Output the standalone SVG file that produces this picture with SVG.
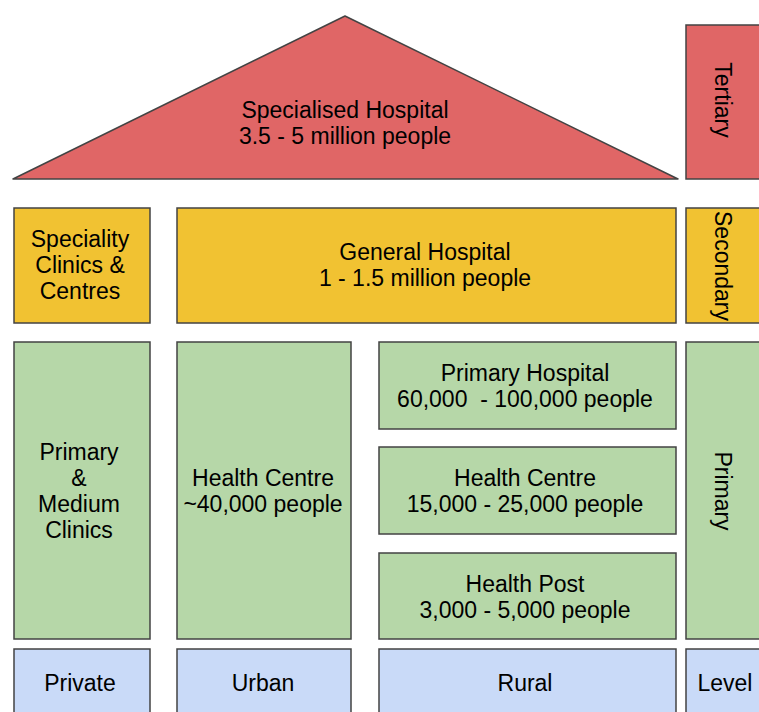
<svg xmlns="http://www.w3.org/2000/svg" width="759" height="712" viewBox="0 0 759 712">
  <style>
    .box { stroke: #434343; stroke-width: 1.5; }
    .red { fill: #e06666; }
    .yellow { fill: #f1c232; }
    .green { fill: #b6d7a8; }
    .blue { fill: #c9daf8; }
    text { font-family: "Liberation Sans", Arial, sans-serif; font-size: 23px; fill: #000; text-anchor: middle; white-space: pre; }
  </style>
  <rect width="759" height="712" fill="#ffffff"/>

  <!-- Tertiary level -->
  <g id="specialised-hospital">
    <polygon class="box red" points="345,16 678,179 13,179" stroke-linejoin="round"/>
    <text x="345" y="118">Specialised Hospital</text>
    <text x="345" y="144">3.5 - 5 million people</text>
  </g>
  <g id="tertiary">
    <rect class="box red" x="686" y="25" width="80" height="154"/>
    <text transform="translate(715,100) rotate(90)">Tertiary</text>
  </g>

  <!-- Secondary level -->
  <g id="speciality-clinics">
    <rect class="box yellow" x="14" y="208" width="136" height="115"/>
    <text x="80" y="247">Speciality</text>
    <text x="80" y="273">Clinics &amp;</text>
    <text x="80" y="299">Centres</text>
  </g>
  <g id="general-hospital">
    <rect class="box yellow" x="177" y="208" width="499" height="115"/>
    <text x="425" y="260">General Hospital</text>
    <text x="425" y="286">1 - 1.5 million people</text>
  </g>
  <g id="secondary">
    <rect class="box yellow" x="686" y="208" width="80" height="115"/>
    <text transform="translate(715,266) rotate(90)">Secondary</text>
  </g>

  <!-- Primary level -->
  <g id="primary-medium-clinics">
    <rect class="box green" x="14" y="342" width="136" height="297"/>
    <text x="79" y="460">Primary</text>
    <text x="79" y="486">&amp;</text>
    <text x="79" y="512">Medium</text>
    <text x="79" y="538">Clinics</text>
  </g>
  <g id="urban-health-centre">
    <rect class="box green" x="177" y="342" width="174" height="297"/>
    <text x="263" y="486">Health Centre</text>
    <text x="263" y="512">~40,000 people</text>
  </g>
  <g id="primary-hospital">
    <rect class="box green" x="379" y="342" width="297" height="87"/>
    <text x="525" y="381">Primary Hospital</text>
    <text x="525" y="407">60,000  - 100,000 people</text>
  </g>
  <g id="rural-health-centre">
    <rect class="box green" x="379" y="447" width="297" height="87"/>
    <text x="525" y="486">Health Centre</text>
    <text x="525" y="512">15,000 - 25,000 people</text>
  </g>
  <g id="health-post">
    <rect class="box green" x="379" y="553" width="297" height="86"/>
    <text x="525" y="592">Health Post</text>
    <text x="525" y="618">3,000 - 5,000 people</text>
  </g>
  <g id="primary">
    <rect class="box green" x="686" y="342" width="80" height="297"/>
    <text transform="translate(715,491) rotate(90)">Primary</text>
  </g>

  <!-- Sector row -->
  <g id="private">
    <rect class="box blue" x="14" y="649" width="136" height="80"/>
    <text x="80" y="691">Private</text>
  </g>
  <g id="urban">
    <rect class="box blue" x="177" y="649" width="174" height="80"/>
    <text x="263" y="691">Urban</text>
  </g>
  <g id="rural">
    <rect class="box blue" x="379" y="649" width="297" height="80"/>
    <text x="525" y="691">Rural</text>
  </g>
  <g id="level">
    <rect class="box blue" x="686" y="649" width="80" height="80"/>
    <text x="725" y="691">Level</text>
  </g>

  <g id="connectors"/>
</svg>
